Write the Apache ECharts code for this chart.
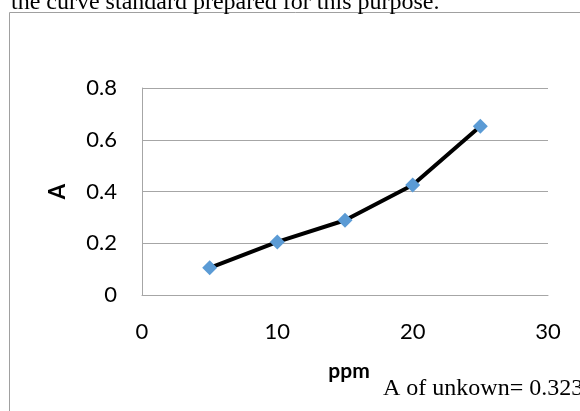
<!DOCTYPE html>
<html>
<head>
<meta charset="utf-8">
<script src="https://cdn.jsdelivr.net/npm/echarts@6/dist/echarts.min.js"></script>
<style>html,body{margin:0;padding:0;background:#fff;}#c{width:580px;height:411px;}</style>
</head>
<body>
<div id="c"></div>
<script>
const ppm = [5, 10, 15, 20, 25];
const absorbance = [0.105, 0.205, 0.289, 0.425, 0.652];
const xTicks = [0, 10, 20, 30];
const yTicks = [0, 0.2, 0.4, 0.6, 0.8];
const topText = 'the curve standard prepared for this purpose.';
const noteText = 'A of unkown= 0.323';
const xName = 'ppm';
const yName = 'A';

const chart = echarts.init(document.getElementById('c'), null, {renderer: 'canvas'});
const tickFont = {fontFamily: 'Lato', fontSize: 22, color: '#000'};
chart.setOption({
  animation: false,
  backgroundColor: '#fff',
  grid: {left: 142, right: 32, top: 88, bottom: 116, containLabel: false},
  xAxis: {
    type: 'value', min: xTicks[0], max: xTicks[xTicks.length - 1], interval: 10,
    name: xName, nameLocation: 'middle', nameGap: 66,
    nameTextStyle: {fontFamily: 'Lato', fontSize: 21, fontWeight: 'bold', color: '#000', padding: [0, 0, 0, 8]},
    axisLine: {show: true, lineStyle: {color: '#a6a6a6', width: 1}},
    axisTick: {show: false},
    splitLine: {show: false},
    axisLabel: Object.assign({margin: 26}, tickFont)
  },
  yAxis: {
    type: 'value', min: yTicks[0], max: yTicks[yTicks.length - 1], interval: 0.2,
    name: yName, nameLocation: 'middle', nameGap: 73, nameRotate: 90,
    nameTextStyle: {fontFamily: 'Lato', fontSize: 22, fontWeight: 'bold', color: '#000'},
    axisLine: {show: true, lineStyle: {color: '#a6a6a6', width: 1}},
    axisTick: {show: false},
    splitLine: {show: true, lineStyle: {color: '#a6a6a6', width: 1}},
    axisLabel: Object.assign({margin: 25, formatter: v => String(Math.round(v * 10) / 10)}, tickFont)
  },
  graphic: [
    {type: 'rect', shape: {x: 9.5, y: 12.5, width: 600, height: 500}, style: {fill: null, stroke: '#a0a0a0', lineWidth: 1}, z: -1},
    {type: 'text', left: 11, top: -9, style: {text: topText, font: '24px "Liberation Serif"', fill: '#000'}},
    {type: 'text', left: 383, top: 377, style: {text: noteText, font: '24px "Liberation Serif"', fill: '#000'}}
  ],
  series: [{
    type: 'line',
    data: ppm.map((x, i) => [x, absorbance[i]]),
    lineStyle: {color: '#000', width: 4},
    symbol: 'diamond', symbolSize: 15,
    itemStyle: {color: '#5b9bd5', borderWidth: 0},
    z: 3
  }]
});
</script>
</body>
</html>
